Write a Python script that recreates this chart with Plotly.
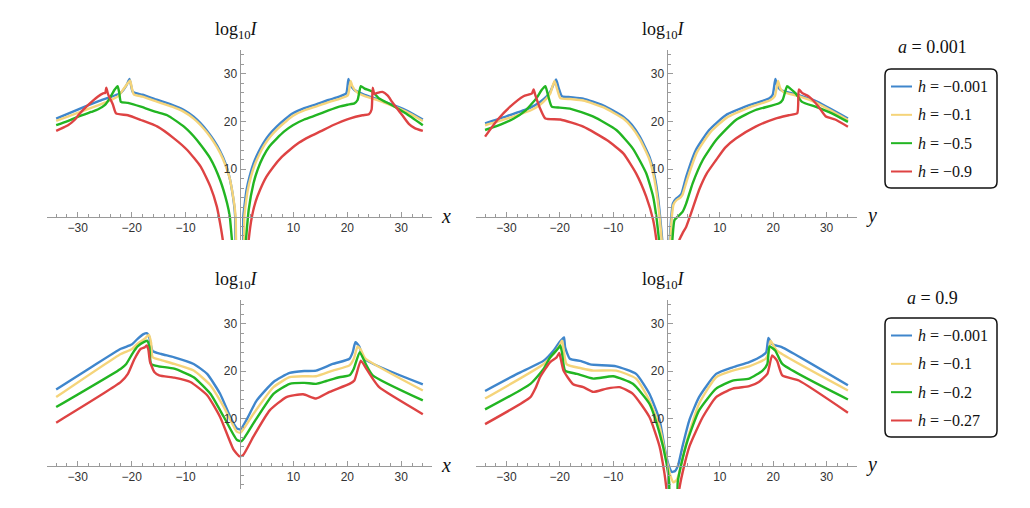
import plotly.graph_objects as go

# the page has an 8px body margin, so the figure is a bit smaller and offset
OFF = 8
W, H = 1030 - OFF, 508 - OFF

# series colours (h values, light to heavy)
colors = ["#3f86cc", "#f5d47a", "#22b522", "#de4343"]
h_top = ["−0.001", "−0.1", "−0.5", "−0.9"]
h_bot = ["−0.001", "−0.1", "−0.2", "−0.27"]
a_top = "0.001"
a_bot = "0.9"

x_ticks = [-30, -20, -10, 10, 20, 30]
y_ticks = [10, 20, 30]
x_minor = [v for v in range(-34, 35, 2) if v % 10]
y_minor = [v for v in range(-4, 35, 2) if v % 10]

# ---- panel 1: a = 0.001, versus x ----
p1_blue_x = [-34, -30, -26, -23, -22, -21, -20.4, -20.1, -19.8, -18, -15.2, -12.5, -10.3, -8.5, -7.2, -6, -4.8, -3.6, -2.6, -1.9, -1.4, -1.0, -0.8, -0.5,
             0.5, 0.7, 1.0, 1.3, 1.9, 2.6, 3.5, 4.4, 5.5, 6.9, 8.5, 9.9, 12, 14.2, 16.5, 18.5, 19.8, 20.2, 20.5, 21.3, 23, 24.7, 27.7, 30.8, 34]
p1_blue_y = [20.6, 22.5, 24.3, 25.5, 26.0, 27.5, 28.9, 27.5, 26.2, 25.6, 24.5, 23.5, 22.4, 21.0, 19.6, 18.0, 16.1, 13.8, 11.2, 8.5, 5.6, 2.5, 0, -8,
             -8, 0, 3, 5.6, 8.6, 11.2, 13.5, 15.4, 17.2, 18.9, 20.5, 21.7, 22.8, 23.6, 24.5, 25.2, 25.9, 28.9, 27.8, 26.6, 25.7, 25.0, 23.8, 22.4, 20.4]
p1_yell_x = [-34, -30, -26, -24, -22.5, -21.5, -20.3, -20.0, -19.6, -18, -15.2, -12.5, -10.3, -8.5, -7.2, -6, -4.8, -3.6, -2.6, -1.8, -1.3, -0.9, -0.7, -0.4,
             0.6, 0.9, 1.2, 1.5, 2.1, 2.8, 3.7, 4.6, 5.7, 7.1, 8.7, 10.1, 12.2, 14.4, 16.7, 18.7, 20.1, 20.6, 20.9, 21.7, 23, 24.7, 27.7, 30.8, 34]
p1_yell_y = [20.1, 21.8, 23.5, 24.4, 25.3, 26.8, 28.6, 27.2, 25.7, 25.2, 24.1, 23.1, 22.0, 20.6, 19.2, 17.6, 15.7, 13.4, 10.8, 8.0, 5.0, 2.0, -0.5, -8,
             -8, 0, 3, 5.4, 8.3, 10.8, 13.1, 15.0, 16.8, 18.5, 20.1, 21.3, 22.4, 23.2, 24.1, 24.8, 25.5, 28.5, 27.5, 26.2, 25.4, 24.8, 23.6, 22.1, 20.1]
p1_gren_x = [-34, -32, -29.9, -27.5, -26.3, -25, -24.1, -23.2, -22.6, -22.3, -22, -20.7, -18.3, -15.5, -13.4, -10.3, -7.9, -5.4, -3.6, -2.3, -1.8, -1.4, -1.1,
             1.0, 1.2, 1.7, 2.6, 3.4, 4.4, 5.5, 6.9, 8.3, 9.9, 12, 14.2, 16.5, 18.5, 20, 21.3, 21.9, 22.5, 23.2, 24.7, 25.9, 28.3, 30.8, 34]
p1_gren_y = [19.2, 20.0, 21.0, 22.0, 22.5, 23.4, 24.8, 26.6, 27.4, 26.0, 24.1, 23.9, 23.1, 22.0, 21.3, 18.9, 16.1, 12.2, 7.7, 2.8, 0, -4.9, -8,
             -8, -4.9, 1.4, 7.0, 10.0, 12.6, 14.7, 16.4, 17.9, 19.2, 20.4, 21.3, 22.3, 23.1, 23.5, 23.8, 24.5, 27.4, 26.9, 26.2, 24.8, 23.4, 21.7, 19.2]
p1_red_x = [-34, -32.5, -31.8, -30.5, -29.9, -28.1, -26.3, -25.3, -24.9, -24.7, -24.4, -23.5, -22.9, -20.7, -18.3, -15.2, -12.1, -9.7, -7.2, -5.4, -4.2, -3.6, -3.1, -2.8,
            1.5, 1.7, 2.3, 3.0, 3.8, 5.0, 6.3, 7.8, 9.3, 11, 13, 15, 17.3, 20.4, 22.8, 24.0, 24.5, 24.7, 25.0, 25.3, 26.5, 27.5, 28.3, 29.3, 30.2, 31.4, 32.5, 34]
p1_red_y = [18.0, 18.8, 19.2, 20.4, 21.3, 23.4, 25.2, 25.9, 26.0, 27.1, 25.8, 23.6, 21.7, 21.3, 20.3, 18.9, 16.4, 14.0, 10.5, 6.3, 2.1, -1.4, -4.9, -8,
            -8, -4.9, 0, 3.2, 5.6, 8.4, 10.5, 12.5, 14.0, 15.5, 16.8, 17.9, 19.2, 20.6, 21.3, 21.5, 22.5, 27.1, 25.8, 25.9, 26.2, 25.4, 24.1, 22.6, 21.3, 19.5, 18.6, 18.0]

# ---- panel 2: a = 0.001, versus y ----
p2_blue_x = [-34, -29.9, -25.5, -23.7, -22.5, -21.8, -20.7, -20.2, -19.6, -18, -15.6, -11.9, -8.1, -6.5, -5.0, -3.2, -2.2, -1.6, -1.2, -0.8, -0.6,
             0.4, 0.6, 0.9, 1.2, 1.8, 2.4, 2.8, 3.7, 5.5, 8, 11.1, 15.5, 19.2, 19.9, 20.4, 20.8, 21.4, 24.8, 27.9, 34]
p2_blue_y = [19.6, 21.1, 22.9, 24.1, 25.2, 26.2, 28.8, 27.0, 25.3, 25.1, 24.8, 23.4, 21.0, 19.3, 16.8, 12.6, 8.4, 4.2, 0, -4.9, -8,
             -8, -4.9, 0, 2.8, 3.8, 4.3, 4.8, 8.4, 14.0, 18.2, 21.3, 23.4, 24.8, 25.6, 28.9, 27.4, 26.6, 25.5, 24.3, 20.6]
p2_yell_x = [-34, -29.9, -25.5, -23.7, -22.5, -21.8, -21.0, -20.5, -19.9, -18, -15.6, -11.9, -8.1, -6.5, -5.0, -3.2, -2.3, -1.7, -1.3, -0.9, -0.7,
             0.5, 0.7, 1.0, 1.3, 1.9, 2.6, 3.0, 3.9, 5.7, 8.2, 11.3, 15.7, 19.5, 20.3, 20.9, 21.3, 21.9, 24.8, 27.9, 34]
p2_yell_y = [19.2, 20.6, 22.3, 23.5, 24.8, 25.8, 28.5, 26.8, 24.9, 24.7, 24.4, 23.0, 20.6, 18.8, 16.3, 12.0, 8.0, 3.8, 0, -4.9, -8,
             -8, -4.9, 0, 2.5, 3.5, 4.0, 4.6, 7.9, 13.5, 17.7, 20.8, 23.0, 24.5, 25.3, 28.5, 27.0, 26.2, 25.3, 24.0, 20.3]
p2_gren_x = [-34, -31, -28.6, -26.5, -25.5, -24.3, -23.4, -22.7, -22.2, -21.5, -20, -18.1, -13.7, -9.4, -6.3, -3.8, -2.5, -1.9, -1.4, -1.1,
             0.9, 1.1, 1.5, 2.4, 3.0, 3.7, 4.9, 6.8, 9.3, 13, 16.7, 21.1, 21.8, 22.6, 23.2, 24.2, 25.4, 27.9, 31, 34]
p2_gren_y = [18.2, 19.4, 20.6, 22.2, 23.4, 25.0, 26.6, 27.4, 25.5, 23.1, 22.9, 22.7, 21.0, 18.2, 14.3, 9.1, 4.2, 0, -4.9, -8,
             -8, -4.9, -0.7, 0.3, 1.0, 2.8, 7.0, 11.9, 16.1, 20.3, 22.4, 23.8, 24.6, 27.4, 26.9, 25.9, 24.1, 23.1, 21.7, 19.9]
p2_red_x = [-34, -31.7, -29.3, -26.8, -25.2, -24.9, -24.6, -23.6, -22.7, -19.9, -15.6, -11.2, -8.1, -5.7, -3.8, -2.5, -1.9, -1.6,
            2.1, 2.4, 3.0, 3.7, 4.6, 6.1, 7.5, 9.3, 11, 13, 16.7, 20.4, 22.9, 24.5, 24.8, 25.4, 26.6, 27.5, 28.5, 29.8, 31.6, 34]
p2_red_y = [16.8, 20.3, 23.1, 25.3, 25.9, 26.7, 25.6, 22.5, 20.6, 20.4, 18.9, 16.1, 13.3, 9.1, 4.2, -0.7, -4.9, -8,
            -8, -4.9, -3.5, -2.1, 0.7, 5.6, 9.0, 11.9, 14.5, 16.4, 18.9, 20.6, 21.3, 21.7, 26.7, 26.0, 25.3, 24.4, 23.1, 21.1, 20.4, 18.9]

# ---- panel 3: a = 0.9, versus x ----
p3_blue_x = [-34, -27.5, -22, -20, -18.9, -17.8, -17.2, -16.8, -16.1, -14.5, -12.1, -8.5, -6, -3.6, -1.7, -0.5, 0.2, 1.3, 3.2, 6.3, 9.3, 12, 14.2, 17.3, 20.4, 21.0, 21.5, 22.2, 23.1, 34]
p3_blue_y = [16.1, 20.8, 24.7, 25.6, 26.8, 27.8, 28.0, 27.4, 24.2, 23.6, 22.9, 21.5, 19.4, 15.2, 10.3, 7.9, 7.7, 9.7, 13.8, 17.7, 19.6, 20.0, 20.1, 21.5, 22.6, 24.0, 26.1, 25.2, 22.6, 17.2]
p3_yell_x = [-34, -22, -20, -18.9, -17.5, -16.8, -16.4, -16.1, -14.5, -12.1, -8.5, -5.4, -2.9, -0.5, 0.2, 2.6, 6.3, 9.3, 12, 14.2, 17.3, 20.4, 21.2, 21.9, 22.5, 23.3, 34]
p3_yell_y = [14.5, 23.6, 24.6, 25.8, 26.9, 27.7, 26.0, 22.9, 22.3, 21.5, 20.1, 17.0, 12.4, 7.2, 7.0, 11.0, 16.6, 18.7, 18.9, 18.9, 20.1, 21.2, 22.6, 25.2, 24.5, 22.7, 15.9]
p3_gren_x = [-34, -22, -21, -19.8, -18.9, -17.6, -17.1, -16.7, -16.4, -15, -12.1, -8.5, -5.4, -2.9, -0.5, 0.4, 2.6, 6.3, 9.3, 12, 14.2, 16.1, 18.5, 20.4, 21.2, 22.3, 23.4, 24.7, 34]
p3_gren_y = [12.4, 20.5, 21.5, 23.8, 25.2, 26.2, 26.4, 25.0, 21.5, 21.0, 20.5, 18.7, 15.2, 10.3, 5.5, 5.2, 9.0, 15.2, 17.3, 17.5, 17.3, 17.9, 18.7, 19.1, 20.5, 24.0, 21.5, 19.1, 13.8]
p3_red_x = [-34, -22, -20.7, -19.5, -18.3, -17.6, -17.2, -16.9, -16.6, -15.8, -14.9, -12.1, -9.1, -6, -3.6, -1.1, 0, 0.7, 2.6, 5.6, 8.7, 11.8, 14.2, 16.7, 20.4, 21.3, 22.5, 23.5, 24.7, 25.9, 34]
p3_red_y = [9.1, 17.7, 19.4, 22.5, 24.7, 25.0, 25.4, 24.5, 22.0, 19.8, 19.1, 18.6, 17.7, 14.9, 10.3, 3.4, 2.0, 2.3, 6.2, 11.7, 14.5, 15.1, 14.2, 15.6, 17.3, 18.0, 22.2, 20.5, 18.4, 16.6, 10.9]

# ---- panel 4: a = 0.9, versus y ----
p4_blue_x = [-34, -28, -23, -21.2, -20, -19.4, -19.2, -19.0, -18.1, -16, -14.3, -9.4, -5.7, -3.2, -1.3, -0.4, 0.3, 1.0, 1.6, 2.2, 3, 4.3, 6.1, 9.3, 12.4, 15.5, 18, 18.7, 19.1, 19.8, 20.5, 21.7, 34]
p4_blue_y = [15.8, 19.4, 22.2, 24.3, 26.2, 26.9, 27.1, 25.0, 22.6, 22.1, 21.4, 21.0, 19.4, 15.2, 9.7, 4.1, 0.5, -1.3, -1.1, 0.2, 4.1, 9.7, 14.5, 19.4, 20.8, 21.9, 23.3, 24.0, 27.0, 25.7, 25.4, 25.0, 17.0]
p4_yell_x = [-34, -23, -21, -20.1, -19.6, -19.4, -18.7, -16, -13.7, -9.4, -5.7, -3.2, -1.3, 0, 0.7, 1.3, 1.9, 2.4, 3.7, 6.1, 9.3, 12.4, 15.5, 18.6, 19.2, 19.5, 20.0, 20.7, 34]
p4_yell_y = [14.2, 21.5, 23.8, 25.3, 26.4, 25.5, 21.4, 20.6, 20.1, 20.1, 18.4, 13.8, 8.3, 1.3, -2.0, -3.5, -3.0, -1.5, 4.8, 13.1, 18.7, 20.1, 21.0, 22.6, 24.2, 26.4, 25.5, 24.3, 15.9]
p4_gren_x = [-34, -25.5, -23, -21.8, -20.2, -19.9, -19.6, -19.0, -16.8, -13.7, -10, -6.3, -3.2, -1.3, 0, 0.5, 0.7, 1.9, 2.1, 2.7, 4, 6.1, 9.3, 12.4, 15.5, 18, 18.9, 19.3, 20.4, 21.7, 34]
p4_gren_y = [11.9, 17.3, 20.5, 22.9, 24.9, 25.4, 24.0, 20.1, 19.4, 18.4, 18.9, 17.3, 13.1, 6.9, 0.6, -3.5, -8, -8, -3.5, 0, 5.5, 11.7, 16.3, 18.0, 18.4, 20.1, 21.5, 25.2, 24.3, 21.5, 14.0]
p4_red_x = [-34, -25.5, -24.5, -23.7, -21.8, -20.6, -20.1, -19.8, -19.3, -17.5, -15.6, -13.7, -11.2, -8.8, -6.3, -3.2, -1.3, -0.4, 0, 0.3, 2.1, 2.4, 3, 4.3, 6.8, 9.3, 12.4, 15.5, 17.3, 18.9, 19.8, 20.7, 21.7, 24.8, 34]
p4_red_y = [8.8, 14.5, 16.5, 18.7, 21.9, 22.9, 23.8, 22.5, 20.1, 17.2, 16.6, 15.6, 16.3, 16.6, 15.2, 10.3, 4.1, -1.5, -4.9, -8, -8, -4.9, -1.5, 4.1, 10.3, 14.5, 16.3, 16.8, 17.7, 19.4, 23.3, 22.2, 19.1, 18.0, 11.2]

panels = [
    ([(p1_blue_x, p1_blue_y), (p1_yell_x, p1_yell_y), (p1_gren_x, p1_gren_y), (p1_red_x, p1_red_y)], h_top),
    ([(p2_blue_x, p2_blue_y), (p2_yell_x, p2_yell_y), (p2_gren_x, p2_gren_y), (p2_red_x, p2_red_y)], h_top),
    ([(p3_blue_x, p3_blue_y), (p3_yell_x, p3_yell_y), (p3_gren_x, p3_gren_y), (p3_red_x, p3_red_y)], h_bot),
    ([(p4_blue_x, p4_blue_y), (p4_yell_x, p4_yell_y), (p4_gren_x, p4_gren_y), (p4_red_x, p4_red_y)], h_bot),
]

# pixel boxes (in the browser window) of the four plot areas: left, right, top, bottom
boxes = [(47, 432, 50, 240), (476, 857, 50, 240), (47, 432, 300, 489), (476, 857, 300, 489)]
XR = [-35.7, 35.7]
YR = [-4.9, 35]
var_name = ["x", "y", "x", "y"]

AXC = "#9a9a9a"
TICKFONT = dict(family="Liberation Sans, Arial, sans-serif", size=12, color="#333")
MATH = "Liberation Serif, Times New Roman, serif"


def px(p):
    return (p - OFF) / W


def py(p):
    return 1 - (p - OFF) / H


fig = go.Figure()
layout = dict(annotations=[], shapes=[])


def note(x, y, text, size, anchor="center"):
    layout["annotations"].append(dict(
        x=px(x), y=py(y), xref="paper", yref="paper", showarrow=False,
        xanchor=anchor, yanchor="middle", text=text,
        font=dict(family=MATH, size=size, color="#111"),
    ))


for i, ((series, hs), (l, r, t, b)) in enumerate(zip(panels, boxes)):
    n = "" if i == 0 else str(i + 1)
    xd = [px(l), px(r)]
    yd = [py(b), py(t)]
    xpos = yd[0] + (0 - YR[0]) / (YR[1] - YR[0]) * (yd[1] - yd[0])
    ypos = xd[0] + (0 - XR[0]) / (XR[1] - XR[0]) * (xd[1] - xd[0])
    layout["xaxis" + n] = dict(
        domain=xd, range=XR, anchor="free", position=xpos,
        showline=True, linecolor=AXC, linewidth=1, showgrid=False, zeroline=False,
        tickmode="array", tickvals=x_ticks, ticks="inside", ticklen=5, tickcolor=AXC,
        tickfont=TICKFONT,
        minor=dict(tickmode="array", tickvals=x_minor, ticks="inside", ticklen=3, tickcolor=AXC),
    )
    layout["yaxis" + n] = dict(
        domain=yd, range=YR, anchor="free", position=ypos,
        showline=True, linecolor=AXC, linewidth=1, showgrid=False, zeroline=False,
        tickmode="array", tickvals=y_ticks, ticks="inside", ticklen=5, tickcolor=AXC,
        tickfont=TICKFONT,
        minor=dict(tickmode="array", tickvals=y_minor, ticks="inside", ticklen=3, tickcolor=AXC),
    )
    for (xs, ys), c, h in zip(series, colors, hs):
        fig.add_trace(go.Scatter(
            x=xs, y=ys, mode="lines", name=f"h = {h}",
            line=dict(color=c, width=2.4, shape="spline", smoothing=0.5),
            xaxis="x" + n, yaxis="y" + n, showlegend=False,
        ))
    # axis titles
    x0px = l + (0 - XR[0]) / (XR[1] - XR[0]) * (r - l)
    note(x0px - 3, t - 20, "log<sub>10</sub><i>I</i>", 18)
    y0px = b - (0 - YR[0]) / (YR[1] - YR[0]) * (b - t)
    note(r + 7, y0px - 1, f"<i>{var_name[i]}</i>", 20, anchor="left")

# hand-drawn legends (rounded boxes)
legend_specs = [(a_top, h_top, 47, 69, 188), (a_bot, h_bot, 298, 318, 437)]
bx0, bx1, rad = 885, 997, 6
for a_val, hs, title_y, top, bot in legend_specs:
    note(932, title_y, f"<i>a</i> = {a_val}", 18)
    rx, ry = rad / W, rad / H
    X0, X1, Y0, Y1 = px(bx0), px(bx1), py(bot), py(top)
    path = (f"M{X0 + rx},{Y1} L{X1 - rx},{Y1} Q{X1},{Y1} {X1},{Y1 - ry} "
            f"L{X1},{Y0 + ry} Q{X1},{Y0} {X1 - rx},{Y0} L{X0 + rx},{Y0} "
            f"Q{X0},{Y0} {X0},{Y0 + ry} L{X0},{Y1 - ry} Q{X0},{Y1} {X0 + rx},{Y1} Z")
    layout["shapes"].append(dict(type="path", xref="paper", yref="paper", path=path,
                                 line=dict(color="#111", width=1.5)))
    step = (bot - top - 34) / 3
    for k, (c, h) in enumerate(zip(colors, hs)):
        yy = top + 17.5 + k * step
        layout["shapes"].append(dict(type="line", xref="paper", yref="paper",
                                     x0=px(891), x1=px(912), y0=py(yy), y1=py(yy),
                                     line=dict(color=c, width=2)))
        note(916, yy, f"<i>h</i> = {h}", 16, anchor="left")

fig.update_layout(
    width=W, height=H, margin=dict(l=0, r=0, t=0, b=0),
    paper_bgcolor="white", plot_bgcolor="white", **layout,
)
fig.write_html("out.html")
